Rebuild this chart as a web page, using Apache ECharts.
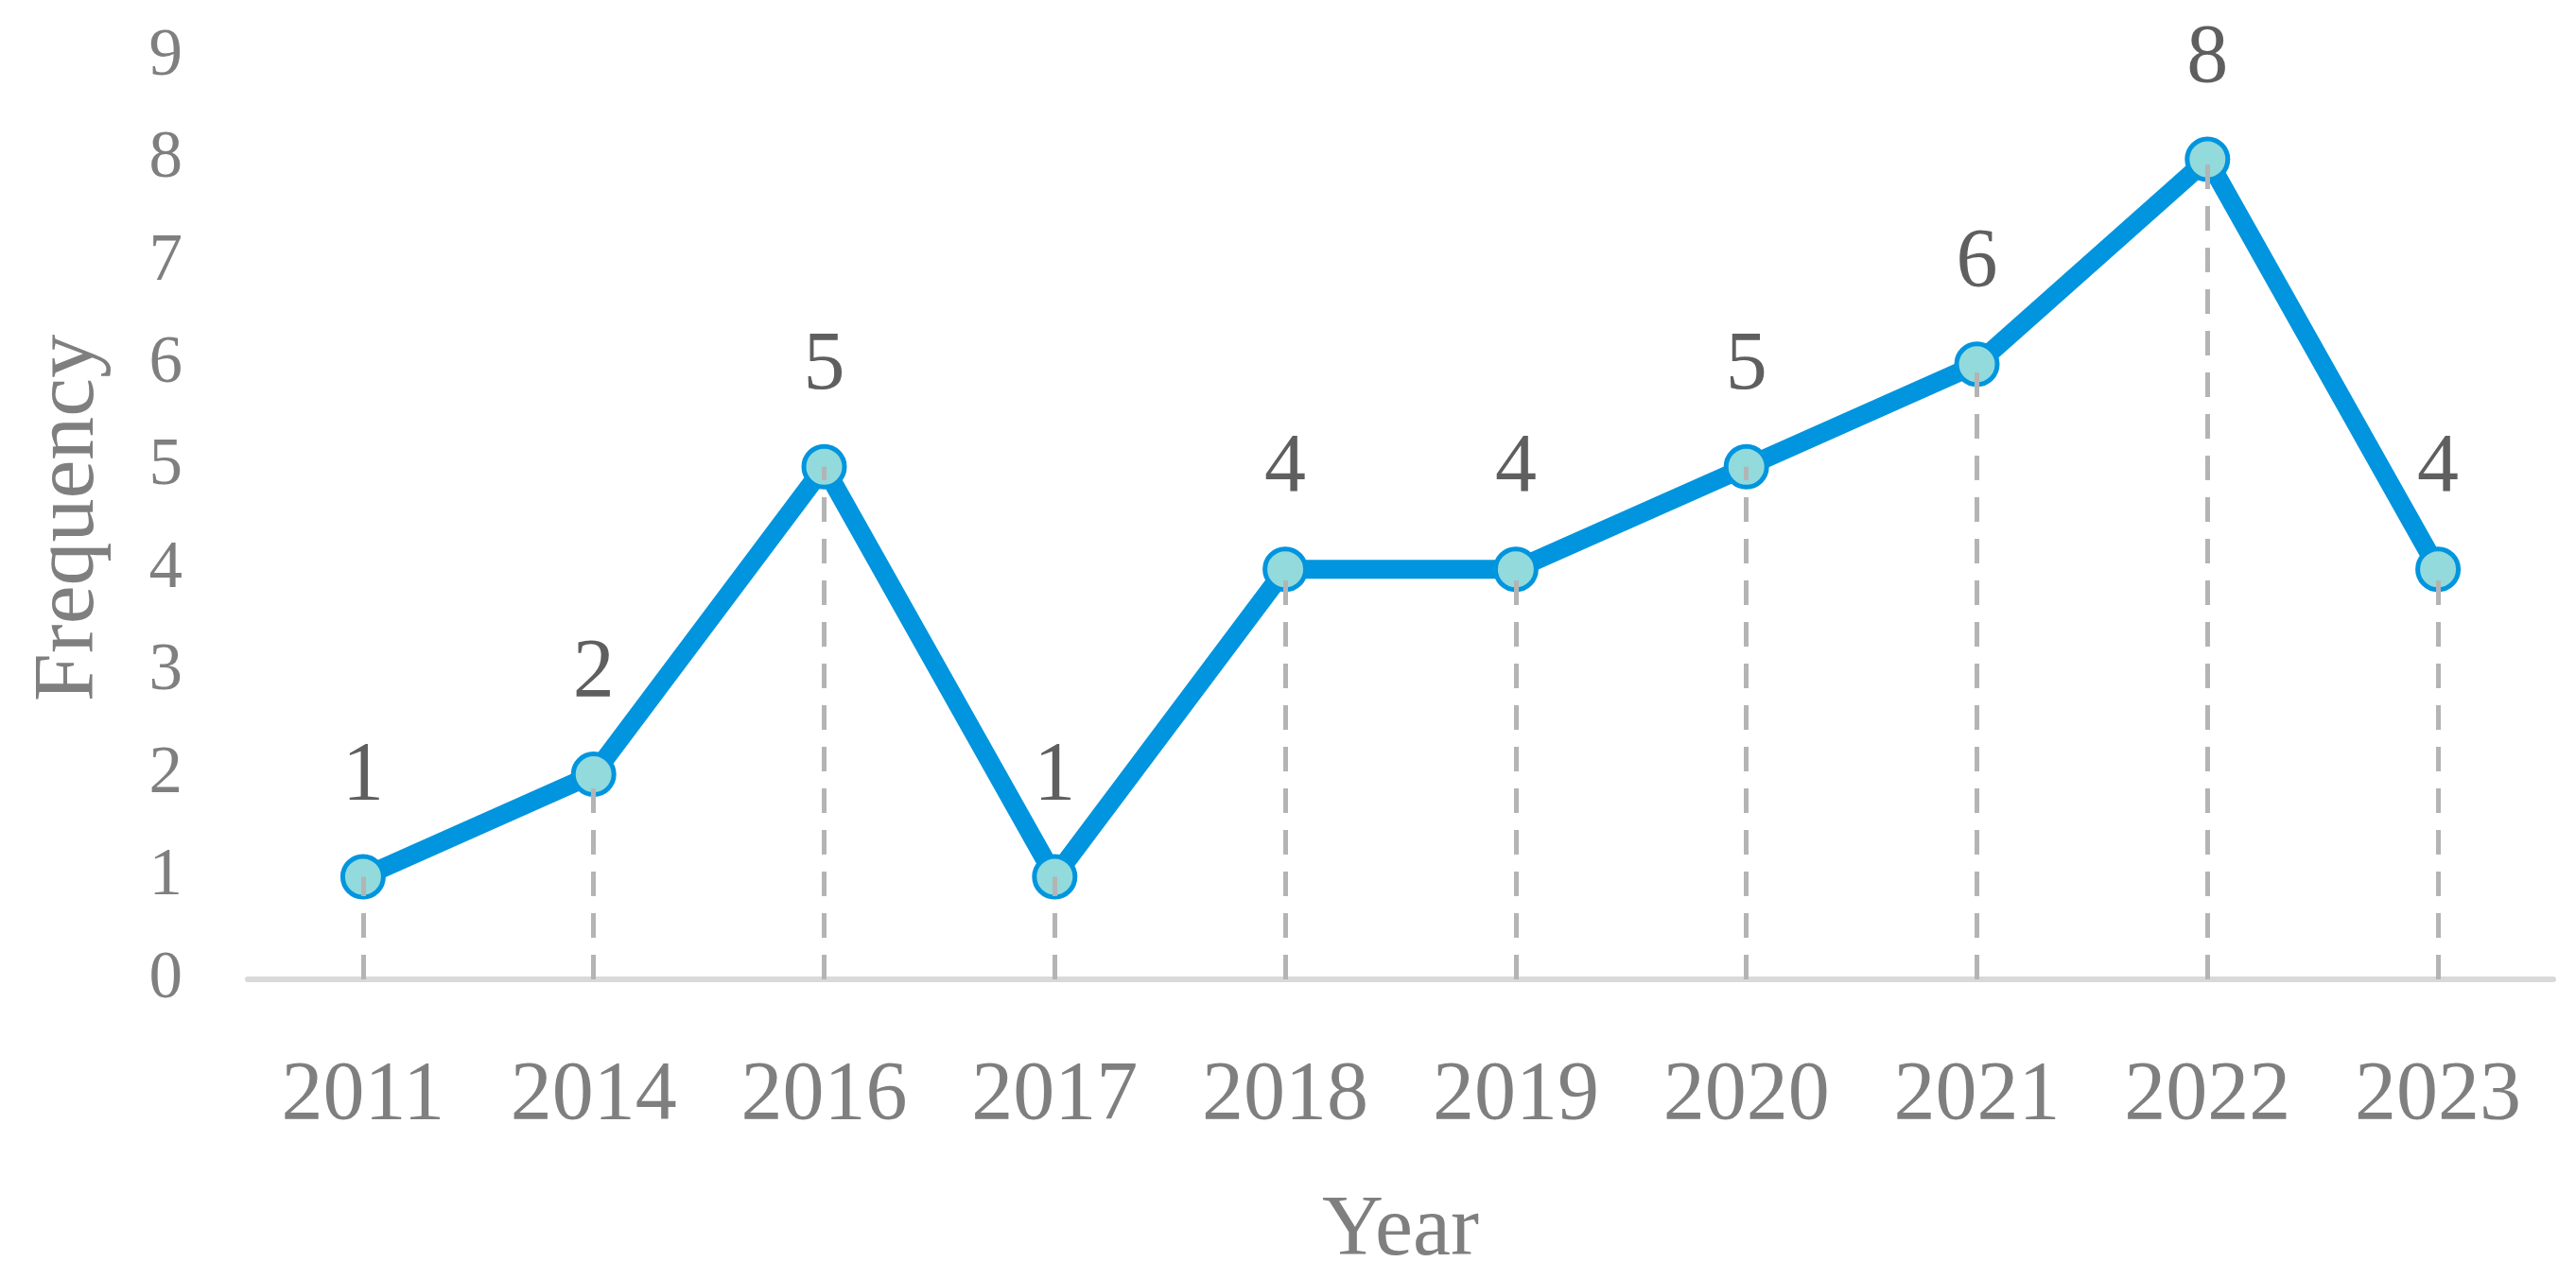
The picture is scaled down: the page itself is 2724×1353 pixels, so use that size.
<!DOCTYPE html>
<html>
<head>
	<meta http-equiv="Content-Type" content="text/html; charset=UTF-8">
	<title>Frequency by Year</title>
	<script src="https://cdn.jsdelivr.net/npm/echarts@6/dist/echarts.min.js"></script>
	<style>
		html, body { margin: 0; padding: 0; background: #fff; }
	</style>
</head>
<body>

	<div id="main" style="width: 2724px;height:1353px;"></div>

	<script>

		var years = ['2011', '2014', '2016', '2017', '2018', '2019', '2020', '2021', '2022', '2023'];
		var frequency = [1, 2, 5, 1, 4, 4, 5, 6, 8, 4];
		var yTicks = [0, 1, 2, 3, 4, 5, 6, 7, 8, 9];

		const lineColor = '#0095de';
		const markerFill = '#92dadc';
		const dropColor = '#b4b4b4';
		const serif = '"Liberation Serif", "DejaVu Serif", serif';

		var chartDom = document.getElementById('main');
		var myChart = echarts.init(chartDom);
		var option;

		// vertical dashed lines from the axis up to each point
		var dropLines = [];
		for (var i = 0; i < years.length; i++) {
			dropLines.push([
				{ coord: [years[i], 0] },
				{ coord: [years[i], frequency[i]] }
			]);
		}

option = {
  animation: false,
  grid: {
    left: 262,
    right: 24,
    top: 60,
    bottom: 315
  },
  xAxis: {
    type: 'category',
    data: years,
    boundaryGap: true,
    name: 'Year',
    nameLocation: 'middle',
    nameGap: 222,
    nameTextStyle: {
      color: '#7f7f7f',
      fontFamily: serif,
      fontSize: 90
    },
    axisLine: {
      lineStyle: { color: '#d9d9d9', width: 6 }
    },
    axisTick: { show: false },
    axisLabel: {
      color: '#7f7f7f',
      fontFamily: serif,
      fontSize: 88,
      margin: 80
    },
    splitLine: { show: false }
  },
  yAxis: {
    type: 'value',
    min: yTicks[0],
    max: yTicks[yTicks.length - 1],
    interval: 1,
    name: 'Frequency',
    nameLocation: 'middle',
    nameGap: 142,
    nameTextStyle: {
      color: '#7f7f7f',
      fontFamily: serif,
      fontSize: 92
    },
    axisLine: { show: false },
    axisTick: { show: false },
    splitLine: { show: false },
    axisLabel: {
      color: '#7f7f7f',
      fontFamily: serif,
      fontSize: 71,
      margin: 69
    }
  },
  series: [
    {
      name: 'Frequency',
      type: 'line',
      data: frequency,
      symbol: 'circle',
      symbolSize: 43,
      lineStyle: { color: lineColor, width: 20 },
      itemStyle: {
        color: markerFill,
        borderColor: lineColor,
        borderWidth: 5
      },
      label: {
        show: true,
        position: 'top',
        distance: 38,
        color: '#5f5f5f',
        fontFamily: serif,
        fontSize: 88
      },
      markLine: {
        silent: true,
        symbol: ['none', 'none'],
        label: { show: false },
        lineStyle: {
          color: dropColor,
          type: [26, 18],
          width: 5
        },
        data: dropLines,
        z: 5
      },
      z: 3
    }
  ]
};

		option && myChart.setOption(option);

	</script>

</body>
</html>
